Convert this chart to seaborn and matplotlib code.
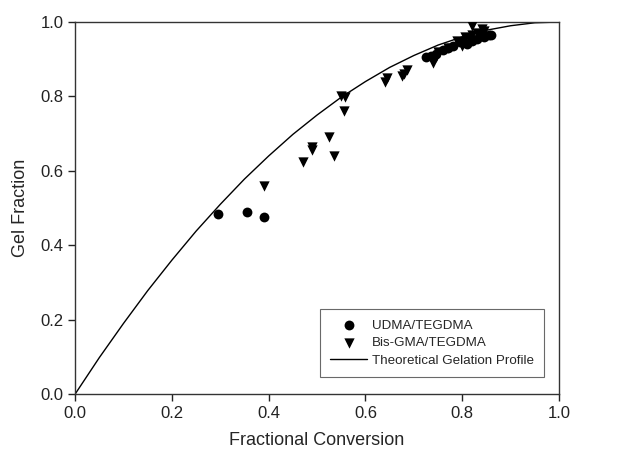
import matplotlib
matplotlib.use("Agg")
import matplotlib.pyplot as plt
import seaborn as sns
import pandas as pd

# UDMA/TEGDMA (circles)
udma_x = [0.295, 0.355, 0.390, 0.725, 0.735, 0.745, 0.760, 0.770, 0.780, 0.795,
          0.810, 0.820, 0.830, 0.845, 0.855, 0.860, 0.800, 0.840]
udma_y = [0.483, 0.490, 0.477, 0.905, 0.910, 0.915, 0.925, 0.930, 0.935, 0.945,
          0.940, 0.950, 0.955, 0.960, 0.965, 0.965, 0.950, 0.970]

# Bis-GMA/TEGDMA (triangles)
bis_x = [0.390, 0.470, 0.490, 0.490, 0.525, 0.535, 0.550, 0.558, 0.555,
         0.640, 0.645, 0.675, 0.685, 0.680, 0.740, 0.745, 0.750, 0.770,
         0.790, 0.800, 0.805, 0.820, 0.820, 0.830, 0.840, 0.845, 0.815]
bis_y = [0.560, 0.625, 0.655, 0.665, 0.690, 0.640, 0.800, 0.798, 0.760,
         0.840, 0.850, 0.855, 0.870, 0.860, 0.890, 0.905, 0.920, 0.930,
         0.950, 0.935, 0.960, 0.990, 0.965, 0.970, 0.980, 0.975, 0.955]

# Theoretical gelation profile
theo_x = [0.00, 0.05, 0.10, 0.15, 0.20, 0.25, 0.30, 0.35, 0.40, 0.45, 0.50,
          0.55, 0.60, 0.65, 0.70, 0.75, 0.80, 0.85, 0.90, 0.95, 1.00]
theo_y = [0.000, 0.098, 0.190, 0.278, 0.360, 0.438, 0.510, 0.578, 0.640, 0.698, 0.750,
          0.798, 0.840, 0.878, 0.910, 0.938, 0.960, 0.978, 0.990, 0.998, 1.000]

ticks = [0.0, 0.2, 0.4, 0.6, 0.8, 1.0]
tick_labels = ["0.0", "0.2", "0.4", "0.6", "0.8", "1.0"]

sns.set_style("ticks")
plt.rcParams['font.family'] = ['Liberation Sans', 'DejaVu Sans']

fig = plt.figure(figsize=(6.26, 4.54), dpi=100)
ax = fig.add_axes([0.12, 0.132, 0.773, 0.8195])

df_u = pd.DataFrame({"x": udma_x, "y": udma_y})
df_b = pd.DataFrame({"x": bis_x, "y": bis_y})
df_t = pd.DataFrame({"x": theo_x, "y": theo_y})

sns.scatterplot(data=df_u, x="x", y="y", marker="o", color="black", s=50,
                edgecolor="black", linewidth=0, ax=ax, label="UDMA/TEGDMA", zorder=3)
sns.scatterplot(data=df_b, x="x", y="y", marker="v", color="black", s=55,
                edgecolor="black", linewidth=0, ax=ax, label="Bis-GMA/TEGDMA", zorder=3)
sns.lineplot(data=df_t, x="x", y="y", color="black", linewidth=1.0, ax=ax,
             label="Theoretical Gelation Profile", zorder=2)

ax.set_xlim(0, 1)
ax.set_ylim(0, 1)
ax.set_xticks(ticks)
ax.set_xticklabels(tick_labels)
ax.set_yticks(ticks)
ax.set_yticklabels(tick_labels)
ax.tick_params(axis="both", direction="out", length=5, width=1, labelsize=12,
               colors="#222222", top=False, right=False)
for sp in ax.spines.values():
    sp.set_linewidth(1.0)
    sp.set_color("#333333")

ax.set_xlabel("Fractional Conversion", fontsize=13, labelpad=8)
ax.set_ylabel("Gel Fraction", fontsize=13, labelpad=8)

leg = ax.legend(loc="lower right", bbox_to_anchor=(0.969, 0.046), borderaxespad=0,
                fontsize=9.6, frameon=True, fancybox=False, edgecolor="#444444",
                handlelength=2.8, handletextpad=0.35, borderpad=0.75, labelspacing=0.4)
leg.get_frame().set_linewidth(0.8)

fig.savefig("out.png", dpi=100)
